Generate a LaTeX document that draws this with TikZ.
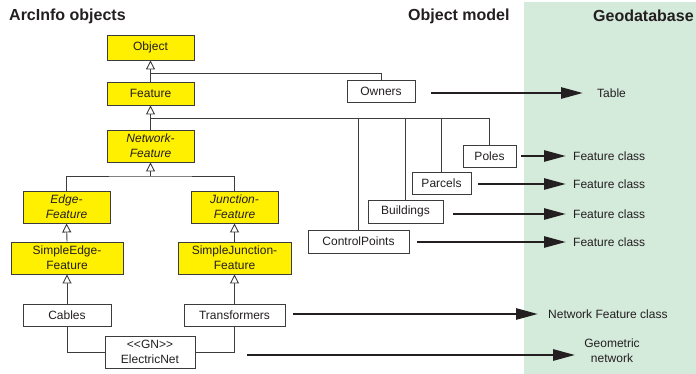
\documentclass[tikz,border=0pt]{standalone}
\usepackage{fontspec}
\setmainfont{Liberation Sans}
\usetikzlibrary{arrows.meta,calc}
\definecolor{boxyellow}{RGB}{255,240,0}
\definecolor{geogreen}{RGB}{212,234,219}
\definecolor{ink}{RGB}{35,31,32}
\definecolor{edgegray}{RGB}{60,60,60}
\tikzset{
  cls/.style={draw=edgegray, line width=0.9pt, fill=boxyellow, inner sep=0pt, align=center,
    font=\fontsize{12}{15}\selectfont, text=ink},
  plain/.style={draw=edgegray, line width=0.9pt, fill=white, inner sep=0pt, align=center,
    font=\fontsize{12}{15}\selectfont, text=ink},
  lbl/.style={inner sep=0pt, align=center, font=\fontsize{12}{15}\selectfont, text=ink},
  hdr/.style={inner sep=0pt, anchor=west, font=\fontsize{16}{18}\selectfont\bfseries, text=ink},
  conn/.style={draw=edgegray, line width=0.9pt},
  inh/.style={draw=edgegray, line width=0.9pt, -{Triangle[open, length=9pt, width=9pt, fill=white]}},
  big/.style={draw=ink, line width=2.7pt, -{Triangle[length=22pt, width=11pt]}}
}
\begin{document}
\begin{tikzpicture}[x=1pt, y=-1pt]
\useasboundingbox (0,0) rectangle (696,374);
\fill[geogreen] (524,2) rectangle (696,374);

% headers
\node[hdr] (h1) at (9,16) {ArcInfo objects};
\node[hdr] (h2) at (408,16) {Object model};
\node[hdr] (h3) at (593,16) {Geodatabase};

% class boxes
\node[cls, minimum width=87pt, minimum height=25pt] (object) at (150.5,47.5) {Object};
\node[cls, minimum width=87pt, minimum height=23pt] (feature) at (150.5,93.5) {Feature};
\node[cls, minimum width=87pt, minimum height=32pt] (netfeat) at (150.5,146) {\itshape Network-\\\itshape Feature};
\node[cls, minimum width=87pt, minimum height=32pt] (edgefeat) at (66.5,207) {\itshape Edge-\\\itshape Feature};
\node[cls, minimum width=87pt, minimum height=32pt] (juncfeat) at (234.5,207) {\itshape Junction-\\\itshape Feature};
\node[cls, minimum width=112pt, minimum height=32pt] (simpleedge) at (67,258) {SimpleEdge-\\Feature};
\node[cls, minimum width=113pt, minimum height=32pt] (simplejunc) at (234.5,258) {SimpleJunction-\\Feature};

% plain boxes
\node[plain, minimum width=88pt, minimum height=22pt] (cables) at (67,315) {Cables};
\node[plain, minimum width=101pt, minimum height=22pt] (transformers) at (234.5,315) {Transformers};
\node[plain, minimum width=90pt, minimum height=32pt] (electricnet) at (150,352) {<{}<GN>{}>\\ElectricNet};
\node[plain, minimum width=68pt, minimum height=22pt] (owners) at (381,91) {Owners};
\node[plain, minimum width=53pt, minimum height=22pt] (poles) at (489.5,156) {Poles};
\node[plain, minimum width=59pt, minimum height=22pt] (parcels) at (441.5,183) {Parcels};
\node[plain, minimum width=75pt, minimum height=23pt] (buildings) at (405.5,211.5) {Buildings};
\node[plain, minimum width=101pt, minimum height=23pt] (controlpoints) at (358.5,241.5) {ControlPoints};

% junction points
\coordinate (j1) at (150.5,73);
\coordinate (j2) at (150.5,118);
\coordinate (j3) at (150.5,176);

% inheritance
\draw[inh] (feature.north) -- (object.south);
\draw[inh] (netfeat.north) -- (feature.south);
\draw[inh] (j3) -- (netfeat.south);
\draw[inh] (simpleedge.north) -- (edgefeat.south);
\draw[inh] (simplejunc.north) -- (juncfeat.south);
\draw[inh] (cables.north) -- (simpleedge.south);
\draw[inh] (transformers.north) -- (simplejunc.south);

\draw[conn] (owners.north) |- (j1);
\draw[conn] (poles.north) |- (j2);
\draw[conn] (parcels.north) -- (parcels.north |- j2);
\draw[conn] (buildings.north) -- (buildings.north |- j2);
\draw[conn] (controlpoints.north) -- (controlpoints.north |- j2);
\draw[conn] (edgefeat.north) |- (j3) -| (juncfeat.north);
\draw[conn] (cables.south) |- (electricnet.west);
\draw[conn] (transformers.south) |- (electricnet.east);

% geodatabase labels
\node[lbl, anchor=west] (table) at (597,93) {Table};
\node[lbl, anchor=west] (fc1) at (573,156) {Feature class};
\node[lbl, anchor=west] (fc2) at (573,184) {Feature class};
\node[lbl, anchor=west] (fc3) at (573,214) {Feature class};
\node[lbl, anchor=west] (fc4) at (573,242) {Feature class};
\node[lbl, anchor=west] (nfc) at (548,314) {Network Feature class};
\node[lbl] (geo) at (612,351) {Geometric\\network};

% big arrows
\draw[big] ($(owners.east)+(16,2)$) -- ($(table.west)+(-14,0)$);
\draw[big] ($(poles.east)+(5,0)$) -- ($(fc1.west)+(-7,0)$);
\draw[big] ($(parcels.east)+(7,1)$) -- ($(fc2.west)+(-7,0)$);
\draw[big] ($(buildings.east)+(10,2.5)$) -- ($(fc3.west)+(-7,0)$);
\draw[big] ($(controlpoints.east)+(8,0.5)$) -- ($(fc4.west)+(-7,0)$);
\draw[big] ($(transformers.east)+(8,-1)$) -- ($(nfc.west)+(-10,0)$);
\draw[big] ($(electricnet.east)+(52,3)$) -- ($(geo.west)+(-9,4)$);
\end{tikzpicture}
\end{document}
